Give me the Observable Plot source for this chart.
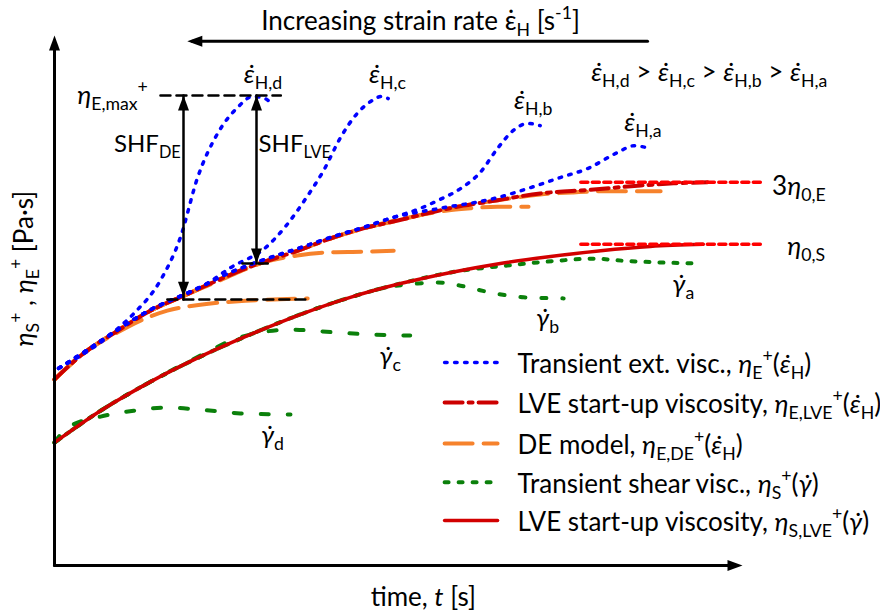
<!DOCTYPE html>
<html><head><meta charset="utf-8">
<script src="https://cdn.jsdelivr.net/npm/d3@7"></script>
<script src="https://cdn.jsdelivr.net/npm/@observablehq/plot@0.6"></script>
<style>html,body{margin:0;padding:0;background:#fff;} svg{display:block;}</style>
</head><body><div id="chart"></div>
<script>
// ---------- DATA (schematic units: time 0–100, viscosity 0–100) ----------
// transient extensional viscosity (blue), shared start and branches
const extStart = [[0.6,37.2],[4.2,40.2],[9.2,44.5],[14.0,48.3],[18.8,51.1],[21.9,53.0]];
const extMidAB = [[23.7,54.2],[28.5,56.8],[35.8,60.0],[40.1,61.9],[44.9,63.8],[48.8,65.5]];
const extTailA = [[56.1,67.4],[63.4,69.1],[70.6,71.9],[73.5,73.2],[77.5,74.9],[81.8,77.9],[84.2,79.2],[85.9,78.9]];
const extTailB = [[53.2,67.4],[56.1,69.1],[59.0,71.1],[61.9,74.2],[64.4,78.7],[66.7,82.1],[68.8,83.4],[70.6,83.0]];
const extTailC = [[25.6,56.2],[30.7,60.0],[33.6,64.0],[36.5,69.2],[39.1,74.5],[41.6,80.8],[44.0,85.3],[46.4,87.9],[47.5,88.5],[48.5,88.1]];
const extD = [[0.6,37.2],[3.8,39.6],[6.7,42.1],[9.2,44.7],[11.5,47.5],[15.4,53.8],[18.3,61.9],[20.8,73.2],[23.7,81.5],[26.6,86.4],[28.8,88.5],[30.2,88.3],[31.4,87.4]];
// LVE start-up extensional viscosity (red dash-dot)
const lveE = [[0,35.1],[4.2,40.0],[9.2,44.3],[14.0,48.1],[18.8,50.9],[23.7,53.8],[28.5,56.4],[35.8,59.6],[40.1,61.7],[44.9,63.6],[49.9,65.1],[54.7,66.6],[59.4,67.9],[63.4,68.7],[70.6,70.2],[77.9,70.9],[85.2,71.7],[90.0,72.1],[94.9,72.3]];
// DE model (orange)
const deD = [[0,35.1],[4.2,40.0],[9.2,44.0],[12.5,46.2],[16.4,48.1],[21.2,49.2],[28.5,50.0],[36.8,50.4]];
const deTailC = [[23.7,53.6],[27.0,55.5],[30.4,57.2],[35.3,58.5],[40.1,59.1],[44.9,59.2],[49.3,59.4]];
const deTailB = [[40.1,61.7],[44.9,63.6],[50.3,65.3],[53.5,66.2],[57.1,67.0],[60.5,67.4],[64.4,67.7],[68.9,67.7]];
const deTailA = [[63.4,68.7],[70.6,70.0],[75.4,70.4],[79.4,70.6],[88.1,70.6]];
// LVE start-up shear viscosity (red solid)
const lveS = [[0,23.2],[6.7,29.2],[14.0,34.7],[21.2,39.4],[28.5,43.6],[35.8,47.4],[43.0,50.6],[50.3,53.2],[57.6,55.3],[64.8,57.0],[72.1,58.3],[79.4,59.4],[86.6,60.2],[94.3,60.6]];
// transient shear viscosity (green)
const shearD = [[0,23.2],[1.9,26.0],[6.7,28.1],[11.5,29.2],[16.4,29.8],[21.2,29.4],[27.0,28.7],[34.3,28.5]];
const shearTailC = [[21.2,39.6],[26.0,42.6],[31.0,44.2],[34.3,44.5],[40.6,44.0],[45.5,43.6],[51.7,43.4]];
const shearTailB = [[43.0,50.6],[48.8,52.6],[52.8,53.2],[55.7,53.4],[59.0,52.8],[63.4,51.5],[68.2,50.6],[74.0,50.4]];
const shearTailA = [[65.8,56.6],[73.1,57.5],[78.3,57.9],[82.7,57.5],[87.6,57.2],[93.2,57.0]];
// plateau levels
const eta0E = 72.3, eta0S = 60.6, plateauT = [76.5, 102.6];
// guide lines and arrows
const etaMax = 88.7, etaDE = 50.2, etaLVE = 57.0;
const shfDE_t = 18.75, shfLVE_t = 29.36;
// texts
const labelText = ["*ε̇*_{H,d}","*η*_{E,max}^{+}","*ε̇*_{H,c}","*ε̇*_{H,b}","*ε̇*_{H,a}",
  "*ε̇*_{H,d} > *ε̇*_{H,c} > *ε̇*_{H,b} > *ε̇*_{H,a}","3*η*_{0,E}","*η*_{0,S}","*γ̇*_{a}","*γ̇*_{b}","*γ̇*_{c}","*γ̇*_{d}"];
const labelT   = [27.5, 3.3, 45.7, 66.8, 82.8, 78.0, 104.3, 106.5, 89.8, 70.0, 47.2, 30.0];
const labelEta = [92.6, 88.7, 92.6, 87.7, 83.6, 93.0, 71.5, 60.2, 53.0, 46.6, 39.4, 24.5];
const shfText = ["SHF_{DE}", "SHF_{LVE}"];
const titleText = "Increasing strain rate ε̇_{H} [s^{-1}]";
const xLabel = "time, *t* [s]";
const yLabel = "*η*_{S}^{+} , *η*_{E}^{+} [Pa·s]";
const legendLabels = ["Transient ext. visc., *η*_{E}^{+}(*ε̇*_{H})","LVE start-up viscosity, *η*_{E,LVE}^{+}(*ε̇*_{H})",
  "DE model, *η*_{E,DE}^{+}(*ε̇*_{H})","Transient shear visc., *η*_{S}^{+}(*γ̇*)","LVE start-up viscosity, *η*_{S,LVE}^{+}(*γ̇*)"];

// ---------- STYLES ----------
const ST = {
  ext:   {stroke:"#0000ff", strokeWidth:3.5, strokeDasharray:"2.5,7.5", strokeLinecap:"round"},
  lveE:  {stroke:"#cc0000", strokeWidth:4, strokeDasharray:"18,6,4,6"},
  de:    {stroke:"#f6822c", strokeWidth:4, strokeDasharray:"28,11"},
  lveS:  {stroke:"#d20000", strokeWidth:3.5},
  zero:  {stroke:"#ff0000", strokeWidth:3.5, strokeDasharray:"7,4.5"},
  guide: {stroke:"#000", strokeWidth:2.5, strokeDasharray:"10,6"},
  shear: ["4,10","5,16","8,19","8,19"].map(da => ({stroke:"#0b800b", strokeWidth:4, strokeDasharray:da, strokeLinecap:"round"}))
};
const FS = 26, FF = "Lato, 'Open Sans', sans-serif";
const xy = {x: d => d[0], y: d => d[1], curve: "monotone-x"};
const line = (data, st) => Plot.line(data, {...xy, ...st});
const head = {draw(ctx){ ctx.moveTo(0,0); ctx.lineTo(-5.5,15); ctx.lineTo(5.5,15); ctx.closePath(); }};
const heads = (pts, rot) => Plot.dot(pts, {x: d => d[0], y: d => d[1], symbol: head, fill: "black", stroke: "none", rotate: rot});
const seg = (pts, st) => Plot.line(pts, {x: d => d[0], y: d => d[1], ...st});

const extA = [...extStart, ...extMidAB, ...extTailA];
const extB = [...extStart, ...extMidAB, ...extTailB];
const extC = [...extStart, ...extTailC];
const deC = [...lveE.slice(0,5), ...deTailC];
const deB = [...lveE.slice(0,8), ...deTailB];
const deA = [...lveE.slice(0,13), ...deTailA];
const shearC = [...lveS.slice(0,3), ...shearTailC];
const shearB = [...lveS.slice(0,6), ...shearTailB];
const shearA = [...lveS.slice(0,9), ...shearTailA];

const legendEta = [38.3, 30.75, 23.0, 15.7, 8.5];
const legendStyles = [ST.ext, ST.lveE, ST.de, ST.shear[0], ST.lveS];

const chart = Plot.plot({
  width: 880, height: 615,
  x: {domain: [0,100], range: [54,742], axis: null},
  y: {domain: [0,100], range: [565,35], axis: null},
  style: {fontFamily: FF, fontSize: FS + "px", color: "black", background: "white", overflow: "visible"},
  marks: [
    line(shearD, ST.shear[3]), line(shearC, ST.shear[2]), line(shearB, ST.shear[1]), line(shearA, ST.shear[0]),
    line(lveS, ST.lveS),
    line(deD, ST.de), line(deC, ST.de), line(deB, ST.de), line(deA, ST.de),
    line(lveE, ST.lveE),
    line(extD, ST.ext), line(extC, ST.ext), line(extB, ST.ext), line(extA, ST.ext),
    seg([[plateauT[0], eta0E],[plateauT[1], eta0E]], ST.zero),
    seg([[plateauT[0], eta0S],[plateauT[1], eta0S]], ST.zero),
    seg([[15.4, etaMax],[32.9, etaMax]], ST.guide),
    seg([[16.4, etaDE],[36.9, etaDE]], ST.guide),
    seg([[27.3, etaLVE],[31.0, etaLVE]], ST.guide),
    // SHF arrows
    seg([[shfDE_t, etaMax],[shfDE_t, etaDE]], {stroke:"#000", strokeWidth:2.5}),
    seg([[shfLVE_t, etaMax],[shfLVE_t, etaLVE]], {stroke:"#000", strokeWidth:2.5}),
    heads([[shfDE_t, etaMax],[shfLVE_t, etaMax]], 0),
    heads([[shfDE_t, etaDE + 0.5],[shfLVE_t, etaLVE]], 180),
    // axes
    seg([[0,0],[0,99]], {stroke:"#000", strokeWidth:3}),
    seg([[0,0],[99,0]], {stroke:"#000", strokeWidth:3}),
    heads([[0,100]], 0),
    heads([[100,0]], 90),
    // strain-rate arrow
    seg([[20,98.9],[86.2,98.9]], {stroke:"#000", strokeWidth:3}),
    heads([[19.3,98.9]], -90),
    // labels
    Plot.text(labelText, {x: (d,i) => labelT[i], y: (d,i) => labelEta[i], text: d => d, textAnchor: "start", fontSize: FS}),
    Plot.text([shfText[0]], {x: shfDE_t - 0.4, y: 79.4, text: d => d, textAnchor: "end", fontSize: 24}),
    Plot.text([shfText[1]], {x: shfLVE_t + 0.3, y: 79.4, text: d => d, textAnchor: "start", fontSize: 24}),
    Plot.text([titleText], {x: 53.2, y: 102.6, text: d => d, textAnchor: "middle", fontSize: FS}),
    Plot.text([xLabel], {x: 53.6, y: -6.0, text: d => d, textAnchor: "middle", fontSize: FS}),
    Plot.text([yLabel], {x: -4.3, y: 56.0, text: d => d, textAnchor: "middle", rotate: -90, fontSize: FS}),
    // legend
    ...legendLabels.map((l, i) => seg([[56.7, legendEta[i]],[64.4, legendEta[i]]], legendStyles[i])),
    Plot.text(legendLabels, {x: 67.3, y: (d,i) => legendEta[i] - 0.4, text: d => d, textAnchor: "start", fontSize: FS})
  ]
});
document.getElementById("chart").appendChild(chart);

// ---------- rich text: *italic*, _{sub}, ^{sup} ----------
function parse(s){
  const out = []; let i = 0, it = false, buf = "";
  const push = (t, mode, ital) => { if (t) out.push({t, mode, ital}); };
  while (i < s.length){
    const c = s[i];
    if (c === "*"){ push(buf, "n", it); buf = ""; it = !it; i++; }
    else if ((c === "_" || c === "^") && s[i+1] === "{"){
      push(buf, "n", it); buf = "";
      const j = s.indexOf("}", i);
      push(s.slice(i+2, j), c === "_" ? "sub" : "sup", false);
      i = j + 1;
    } else { buf += c; i++; }
  }
  push(buf, "n", it);
  return out;
}
chart.querySelectorAll("text").forEach(el => {
  const s = el.textContent;
  if (!/[_^*]/.test(s)) return;
  const fs = parseFloat(getComputedStyle(el).fontSize) || FS;
  const segs = parse(s);
  while (el.firstChild) el.removeChild(el.firstChild);
  let cur = 0;
  for (const g of segs){
    const ts = document.createElementNS("http://www.w3.org/2000/svg", "tspan");
    let target = 0, size = fs;
    if (g.mode === "sub"){ target = 0.24*fs; size = 0.68*fs; }
    else if (g.mode === "sup"){ target = -0.42*fs; size = 0.68*fs; }
    const dy = target - cur; cur = target;
    if (dy) ts.setAttribute("dy", dy.toFixed(2));
    ts.setAttribute("font-size", size.toFixed(2));
    if (g.ital) ts.setAttribute("font-style", "italic");
    ts.textContent = g.t;
    el.appendChild(ts);
  }
});
</script>
</body></html>
